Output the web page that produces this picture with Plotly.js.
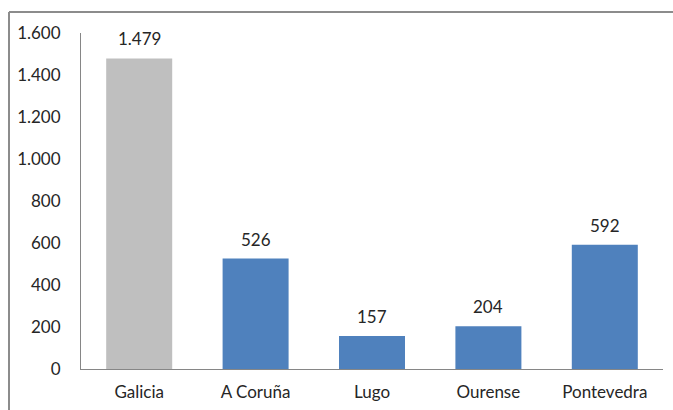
<!DOCTYPE html>
<html>
<head>
<meta charset="utf-8">
<script src="https://cdn.plot.ly/plotly-3.0.1.min.js"></script>
<style>html,body{margin:0;padding:0;background:#fff;}#chart{width:673px;height:410px;}</style>
</head>
<body>
<div id="chart"></div>
<script>
var categories = ["Galicia", "A Coruña", "Lugo", "Ourense", "Pontevedra"];
var values = [1479, 526, 157, 204, 592];
var barColors = ["#bfbfbf", "#4f81bd", "#4f81bd", "#4f81bd", "#4f81bd"];
var yTickValues = [0, 200, 400, 600, 800, 1000, 1200, 1400, 1600];

var fontFam = "Lato, Open Sans, sans-serif";
var fontSize = 17;

var annotations = categories.map(function (c, i) {
  return {
    x: c, y: values[i], xref: "x", yref: "y",
    text: values[i].toLocaleString("de-DE"),
    showarrow: false, yanchor: "bottom", yshift: 7,
    font: {family: fontFam, size: fontSize, color: "#262626"}
  };
});

var trace = {
  type: "bar",
  x: categories,
  y: values,
  marker: {color: barColors},
  hoverinfo: "x+y"
};

var layout = {
  width: 673, height: 410,
  margin: {l: 81, r: 10, t: 33, b: 41, pad: 0},
  paper_bgcolor: "#ffffff", plot_bgcolor: "#ffffff",
  separators: ",.",
  bargap: 0.433,
  showlegend: false,
  font: {family: fontFam, size: fontSize, color: "#262626"},
  xaxis: {
    showgrid: false, zeroline: false,
    showline: true, linecolor: "#868686", linewidth: 1,
    ticks: "", ticklabelstandoff: 8,
    tickfont: {family: fontFam, size: fontSize, color: "#262626"}
  },
  yaxis: {
    range: [0, 1600], autorange: false,
    tickvals: yTickValues, tickformat: ",d",
    showgrid: false, zeroline: false,
    showline: true, linecolor: "#868686", linewidth: 1,
    ticks: "", ticklabelstandoff: 16,
    tickfont: {family: fontFam, size: fontSize, color: "#262626"}
  },
  annotations: annotations,
  shapes: [
    {type: "line", xref: "paper", yref: "paper", x0: -0.1237, x1: -0.1237, y0: 1.0625, y1: -0.2, line: {color: "#8c8c8c", width: 2}},
    {type: "line", xref: "paper", yref: "paper", x0: -0.1237, x1: 1.1, y0: 1.0625, y1: 1.0625, line: {color: "#8c8c8c", width: 2}}
  ]
};

Plotly.newPlot("chart", [trace], layout, {displayModeBar: false, staticPlot: true});
</script>
</body>
</html>
